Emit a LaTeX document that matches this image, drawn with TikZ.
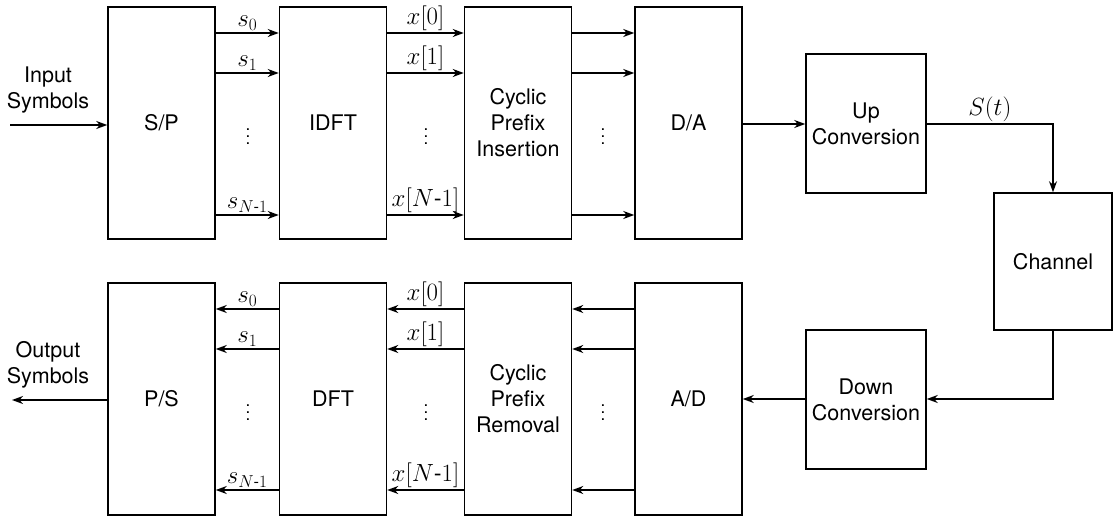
\documentclass[tikz,border=0pt]{standalone}
\usepackage{fontspec}
\setmainfont{TeX Gyre Heros}
\usepackage{amsmath}
\usetikzlibrary{arrows.meta}
\newcommand{\mydots}{\vbox{\fontsize{17}{7}\selectfont\baselineskip=7pt\lineskiplimit=-10pt\hbox{.}\hbox{.}\hbox{.}}}
\begin{document}
\begin{tikzpicture}[x=1pt,y=-1pt,
  every node/.style={font=\fontsize{21.5}{26}\selectfont},
  blk/.style={draw, line width=1.5pt, align=center, inner sep=0pt},
  tall/.style={blk, minimum width=107pt, minimum height=232pt},
  med/.style={blk, minimum width=120pt, minimum height=139pt},
  sig/.style={line width=1.5pt, -{Stealth[length=11pt,width=8pt,inset=3.5pt]}},
  lab/.style={above, inner sep=2pt, font=\fontsize{23.5}{26}\selectfont},
  dotsn/.style={inner sep=0pt}]
\useasboundingbox (0,0) rectangle (1113,518);

% top row
\node[tall] (SP)  at (161.5,123) {S/P};
\node[tall] (IDFT) at (333,123) {IDFT};
\node[tall] (CPI) at (518,123) {Cyclic\\Prefix\\Insertion};
\node[tall] (DA)  at (688.5,123) {D/A};
\node[med]  (UC)  at (866,123.5) {Up\\Conversion};
\node[blk, minimum width=118pt, minimum height=137pt] (CH) at (1053,261.5) {Channel};
% bottom row
\node[med]  (DC)  at (866,399.5) {Down\\Conversion};
\node[tall] (AD)  at (688.5,399) {A/D};
\node[tall] (CPR) at (518,399) {Cyclic\\Prefix\\Removal};
\node[tall] (DFT) at (333,399) {DFT};
\node[tall] (PS)  at (161.5,399) {P/S};

% input / output
\coordinate (in) at (10,125);
\coordinate (out) at (12,400);
\node[align=center, inner sep=0pt] (intxt) at (48,90) {Input\\Symbols};
\node[align=center, inner sep=0pt] (outtxt) at (48,365) {Output\\Symbols};
\draw[sig] (in) -- (SP.west |- in);
\draw[sig] (PS.west |- out) -- (out);

% top parallel arrows
\draw[sig] (SP.east |- 0,33) -- node[lab] {$s_0$} (IDFT.west |- 0,33);
\draw[sig] (SP.east |- 0,73) -- node[lab] {$s_1$} (IDFT.west |- 0,73);
\draw[sig] (SP.east |- 0,215) -- node[lab] {$s_{N\text{-}1}$} (IDFT.west |- 0,215);
\node[dotsn] (d1) at (248,137) {\mydots};

\draw[sig] (IDFT.east |- 0,33) -- node[lab] {$x[0]$} (CPI.west |- 0,33);
\draw[sig] (IDFT.east |- 0,73) -- node[lab] {$x[1]$} (CPI.west |- 0,73);
\draw[sig] (IDFT.east |- 0,215) -- node[lab] {$x[N\text{-}1]$} (CPI.west |- 0,215);
\node[dotsn] (d2) at (426,137) {\mydots};

\draw[sig] (CPI.east |- 0,33) -- (DA.west |- 0,33);
\draw[sig] (CPI.east |- 0,73) -- (DA.west |- 0,73);
\draw[sig] (CPI.east |- 0,215) -- (DA.west |- 0,215);
\node[dotsn] (d3) at (603,137) {\mydots};

\draw[sig] (DA.east |- 0,124) -- (UC.west |- 0,124);
\draw[sig] (UC.east |- 0,124) -- node[lab] {$S(t)$} (CH.north |- 0,124) -- (CH.north);
\draw[sig] (CH.south) -- (CH.south |- 0,399) -- (DC.east |- 0,399);
\draw[sig] (DC.west |- 0,399) -- (AD.east |- 0,399);

% bottom parallel arrows
\draw[sig] (AD.west |- 0,309) -- (CPR.east |- 0,309);
\draw[sig] (AD.west |- 0,349) -- (CPR.east |- 0,349);
\draw[sig] (AD.west |- 0,490) -- (CPR.east |- 0,490);
\node[dotsn] (d4) at (603,413) {\mydots};

\draw[sig] (CPR.west |- 0,309) -- node[lab] {$x[0]$} (DFT.east |- 0,309);
\draw[sig] (CPR.west |- 0,349) -- node[lab] {$x[1]$} (DFT.east |- 0,349);
\draw[sig] (CPR.west |- 0,490) -- node[lab] {$x[N\text{-}1]$} (DFT.east |- 0,490);
\node[dotsn] (d5) at (426,413) {\mydots};

\draw[sig] (DFT.west |- 0,309) -- node[lab] {$s_0$} (PS.east |- 0,309);
\draw[sig] (DFT.west |- 0,349) -- node[lab] {$s_1$} (PS.east |- 0,349);
\draw[sig] (DFT.west |- 0,490) -- node[lab] {$s_{N\text{-}1}$} (PS.east |- 0,490);
\node[dotsn] (d6) at (248,413) {\mydots};
\end{tikzpicture}
\end{document}
